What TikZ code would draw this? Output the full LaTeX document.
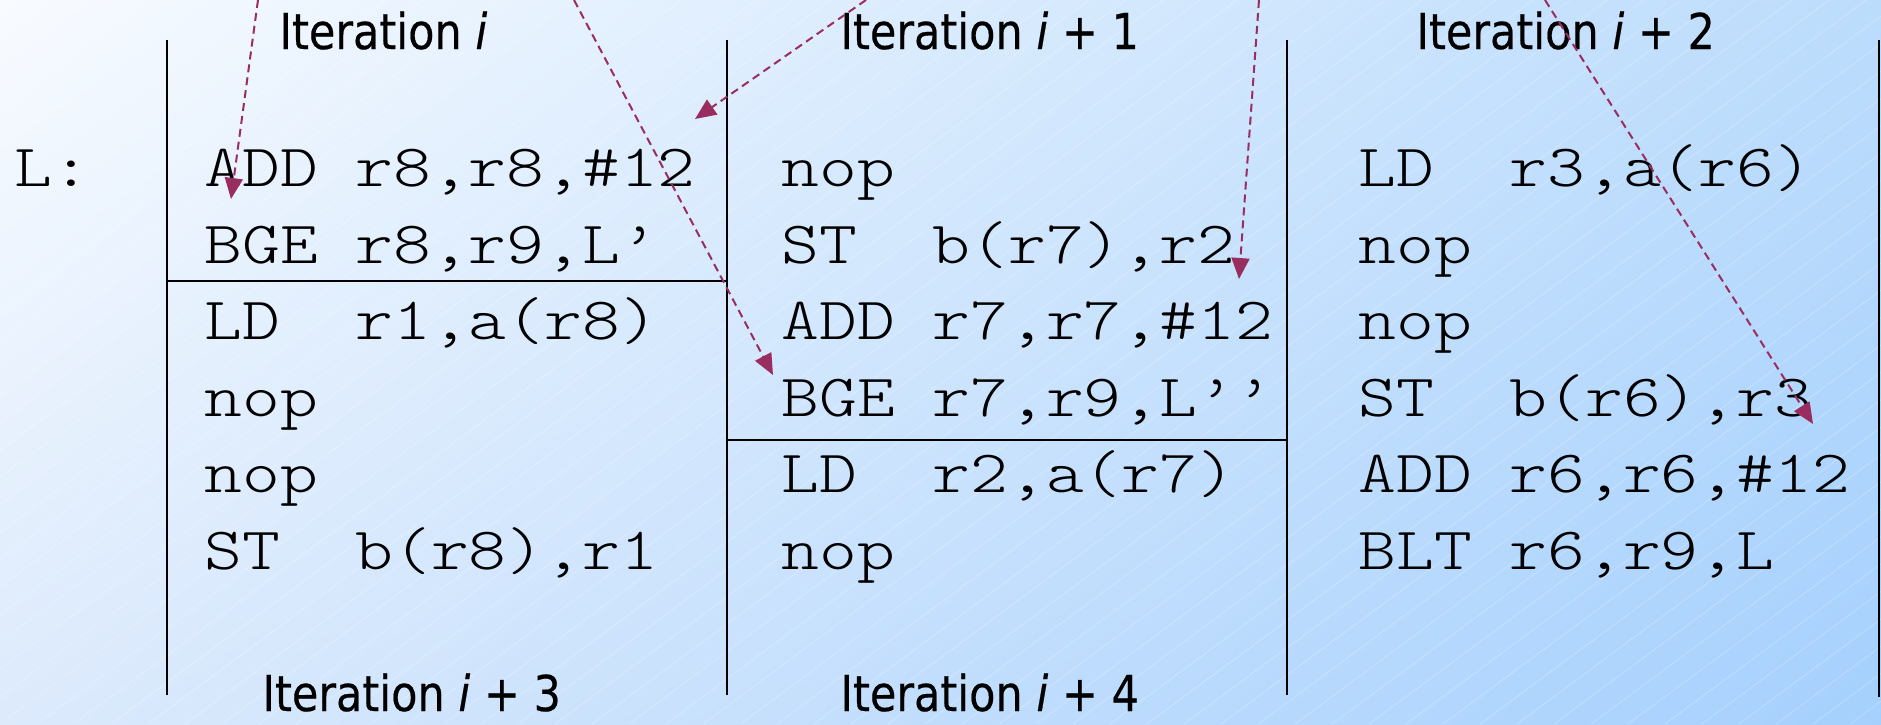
\documentclass[tikz,border=0pt]{standalone}
\usepackage{fontspec}
\usetikzlibrary{arrows.meta,shadings}
\newfontfamily\codefont{lmmonolt10-regular.otf}[FakeStretch=1.2]
\newfontfamily\headfont{DejaVu Sans}[FakeStretch=0.87,FakeBold=0.4]
\definecolor{arrowc}{RGB}{153,45,95}
\definecolor{bgUL}{RGB}{248,251,255}
\definecolor{bgUR}{RGB}{188,220,252}
\definecolor{bgLL}{RGB}{220,234,252}
\definecolor{bgLR}{RGB}{165,208,253}
\begin{document}
\begin{tikzpicture}[x=0.5pt,y=-0.5pt,
  code/.style={anchor=base west, inner sep=0pt, font=\codefont\fontsize{30}{36}\selectfont},
  head/.style={anchor=base west, inner sep=0pt, font=\headfont\fontsize{24.7}{30}\selectfont},
  rule/.style={line width=1.1pt, black},
  dep/.style={arrowc, line width=1pt, dash pattern=on 4pt off 2.5pt,
    -{Triangle[length=10.5pt,width=9pt]}},
  hatch/.style={white, opacity=0.25, line width=0.4pt}]
% background
\shade[upper left=bgUL, upper right=bgUR, lower left=bgLL, lower right=bgLR]
  (0,0) rectangle (1881,724);
\useasboundingbox (0,0) rectangle (1881,724);
\begin{scope}
  \clip (0,0) rectangle (1881,724);
  \foreach \k in {-27,...,51} { \draw[hatch] (\k*37,724) -- ++(978,-724); }
\end{scope}
% rules
\coordinate (v1t) at (167,40);  \coordinate (v1b) at (167,695);
\coordinate (v2t) at (727,40);  \coordinate (v2b) at (727,695);
\coordinate (v3t) at (1287,40); \coordinate (v3b) at (1287,695);
\coordinate (v4t) at (1879,40); \coordinate (v4b) at (1879,697);
\coordinate (h1l) at (167,281); \coordinate (h1r) at (727,281);
\coordinate (h2l) at (727,440); \coordinate (h2r) at (1287,440);
\draw[rule] (v1t) -- (v1b);
\draw[rule] (v2t) -- (v2b);
\draw[rule] (v3t) -- (v3b);
\draw[rule] (v4t) -- (v4b);
\draw[rule] (h1l) -- (h1r);
\draw[rule] (h2l) -- (h2r);
% headings
\node[head] (hi)  at (279,49)  {Iteration \textit{i}};
\node[head] (hi1) at (840,49)  {Iteration \textit{i} + 1};
\node[head] (hi2) at (1416,49) {Iteration \textit{i} + 2};
\node[head] (hi3) at (262,711) {Iteration \textit{i} + 3};
\node[head] (hi4) at (840,711) {Iteration \textit{i} + 4};
% label
\node[code] (L) at (14,186) {L:};
% column 1
\node[code] (a1) at (204,186) {ADD r8,r8,\#12};
\node[code] (a2) at (204,263) {BGE r8,r9,L’};
\node[code] (a3) at (204,339) {LD\ \ r1,a(r8)};
\node[code] (a4) at (204,416) {nop};
\node[code] (a5) at (204,492) {nop};
\node[code] (a6) at (204,569) {ST\ \ b(r8),r1};
% column 2
\node[code] (b1) at (781,186) {nop};
\node[code] (b2) at (781,263) {ST\ \ b(r7),r2};
\node[code] (b3) at (781,339) {ADD r7,r7,\#12};
\node[code] (b4) at (781,416) {BGE r7,r9,L’’};
\node[code] (b5) at (781,492) {LD\ \ r2,a(r7)};
\node[code] (b6) at (781,569) {nop};
% column 3
\node[code] (c1) at (1358,186) {LD\ \ r3,a(r6)};
\node[code] (c2) at (1358,263) {nop};
\node[code] (c3) at (1358,339) {nop};
\node[code] (c4) at (1358,416) {ST\ \ b(r6),r3};
\node[code] (c5) at (1358,492) {ADD r6,r6,\#12};
\node[code] (c6) at (1358,569) {BLT r6,r9,L};
% dependence arrows
\coordinate (s1) at (258,0);  \coordinate (t1) at (231,199);
\coordinate (s2) at (574,0);  \coordinate (t2) at (773,375);
\coordinate (s3) at (866,0);  \coordinate (t3) at (695,119);
\coordinate (s4) at (1259,0); \coordinate (t4) at (1239,279);
\coordinate (s5) at (1545,0); \coordinate (t5) at (1813,424);
\draw[dep] (s1) -- (t1);
\draw[dep] (s2) -- (t2);
\draw[dep] (s3) -- (t3);
\draw[dep] (s4) -- (t4);
\draw[dep] (s5) -- (t5);
\end{tikzpicture}
\end{document}
